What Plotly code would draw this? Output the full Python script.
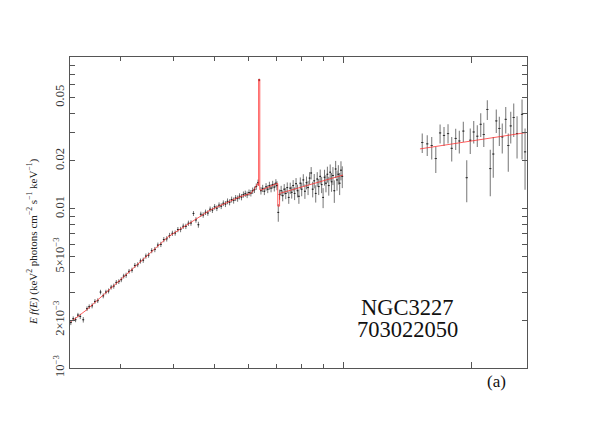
import plotly.graph_objects as go

# XIS spectrum (keV, keV^2 photons cm^-2 s^-1 keV^-1)
xis_energy = [
    2.30, 2.33, 2.36, 2.39, 2.42, 2.46, 2.51, 2.54, 2.58, 2.62, 2.66, 2.70,
    2.74, 2.78, 2.82, 2.86, 2.90, 2.94, 2.98, 3.02, 3.06, 3.10, 3.15, 3.20,
    3.25, 3.30, 3.35, 3.40, 3.45, 3.50, 3.56, 3.62, 3.68, 3.74, 3.80, 3.86,
    3.92, 3.98, 4.04, 4.10, 4.16, 4.22, 4.28, 4.34, 4.40, 4.46, 4.52, 4.58,
    4.64, 4.70, 4.76, 4.82, 4.88, 4.94, 5.00, 5.06, 5.12, 5.18, 5.24, 5.30,
    5.36, 5.42, 5.48, 5.54, 5.60, 5.66, 5.72, 5.78, 5.84, 5.90, 5.96, 6.02,
    6.08, 6.14, 6.20, 6.26, 6.32, 6.36,
    6.42, 6.48, 6.54, 6.60, 6.66, 6.72, 6.78, 6.84, 6.90, 6.96, 7.00, 7.05,
    7.10, 7.16, 7.22, 7.28, 7.34, 7.40, 7.46, 7.52, 7.58, 7.64, 7.70, 7.76,
    7.82, 7.88, 7.94, 8.00, 8.07, 8.14, 8.21, 8.28, 8.35, 8.42, 8.49, 8.56,
    8.63, 8.70, 8.77, 8.84, 8.91, 8.98, 9.05, 9.12, 9.19, 9.26, 9.33, 9.40,
    9.47, 9.54, 9.61, 9.68, 9.75, 9.82, 9.89, 9.96,
]
xis_flux = [
    0.00193, 0.00204, 0.00201, 0.00215, 0.00211, 0.00201, 0.00236, 0.00243,
    0.00246, 0.00262, 0.00265, 0.00300, 0.00284, 0.00300, 0.00305, 0.00322,
    0.00327, 0.00345, 0.00349, 0.00359, 0.00378, 0.00383, 0.00405, 0.00412,
    0.00441, 0.00446, 0.00470, 0.00476, 0.00505, 0.00512, 0.00546, 0.00555,
    0.00592, 0.00598, 0.00641, 0.00648,
    0.00680, 0.00702, 0.00705, 0.00741, 0.00742, 0.00778, 0.00776, 0.00812,
    0.00815, 0.00935, 0.00852, 0.00795, 0.00925, 0.00915, 0.00952, 0.00942,
    0.00995, 0.00982, 0.01030, 0.01010, 0.01055, 0.01040, 0.01085, 0.01072,
    0.01115, 0.01100, 0.01145, 0.01128, 0.01170, 0.01160, 0.01200, 0.01185,
    0.01230, 0.01245, 0.01225, 0.01265, 0.01255, 0.01300, 0.01320, 0.01380,
    0.01460, 0.0645,
    0.01300, 0.01345, 0.01290, 0.01375, 0.01330, 0.01400, 0.01350, 0.01420,
    0.01370, 0.01450, 0.01400, 0.00950, 0.01230, 0.01300, 0.01210, 0.01330,
    0.01250, 0.01360, 0.01180, 0.01350, 0.01270, 0.01400, 0.01250, 0.01440,
    0.01300, 0.01200, 0.01450, 0.01330, 0.01520, 0.01290, 0.01460, 0.01360,
    0.01560, 0.01680, 0.01330, 0.01500, 0.01250, 0.01540, 0.01380, 0.01600,
    0.01420, 0.01180, 0.01580, 0.01450, 0.01650, 0.01400, 0.01700, 0.01480,
    0.01620, 0.01300, 0.01780, 0.01520, 0.01650, 0.01450, 0.01750, 0.01600,
]
xis_err = [
    0.00007, 0.00007, 0.00007, 0.00007, 0.00008, 0.00008, 0.00008, 0.00008,
    0.00009, 0.00009, 0.00009, 0.00010, 0.00010, 0.00010, 0.00011, 0.00011,
    0.00012, 0.00012, 0.00012, 0.00013, 0.00013, 0.00014, 0.00014, 0.00015,
    0.00016, 0.00016, 0.00017, 0.00018, 0.00019, 0.00019, 0.00020, 0.00021,
    0.00022, 0.00023, 0.00024, 0.00025,
    0.00026, 0.00027, 0.00027, 0.00028, 0.00029, 0.00030, 0.00030, 0.00031,
    0.00032, 0.00033, 0.00034, 0.00034, 0.00035, 0.00036, 0.00037, 0.00038,
    0.00039, 0.00040, 0.00041, 0.00042, 0.00043, 0.00044, 0.00045, 0.00046,
    0.00047, 0.00048, 0.00049, 0.00050, 0.00051, 0.00052, 0.00053, 0.00054,
    0.00055, 0.00056, 0.00057, 0.00058, 0.00059, 0.00060, 0.00062, 0.00064,
    0.00066, 0.0012,
    0.0007, 0.0007, 0.0007, 0.00075, 0.00075, 0.0008, 0.0008, 0.0008,
    0.00085, 0.00085, 0.0009, 0.0012, 0.0009, 0.00095, 0.00095, 0.0010,
    0.0010, 0.00105, 0.00105, 0.0011, 0.0011, 0.00115, 0.00115, 0.0012,
    0.0012, 0.00125, 0.00125, 0.0013, 0.0013, 0.00135, 0.00135, 0.0014,
    0.0014, 0.0015, 0.0015, 0.00155, 0.00155, 0.0016, 0.0016, 0.00165,
    0.00165, 0.0017, 0.0018, 0.0018, 0.0019, 0.0019, 0.0020, 0.0020,
    0.0021, 0.0021, 0.0022, 0.0022, 0.0023, 0.0023, 0.0024, 0.0025,
]

# XIS best-fit model (with Fe K line and edge)
model_energy = [2.30, 2.50, 2.97, 3.89, 4.88, 5.73, 6.08, 6.22, 6.30, 6.34,
                6.34, 6.38, 6.38, 6.42, 6.99, 7.03, 7.03, 7.10, 7.10, 10.0]
model_flux = [0.00195, 0.00231, 0.00348, 0.00667, 0.00982, 0.0119, 0.0125,
              0.0135, 0.0144, 0.0140, 0.0650, 0.0650, 0.0132, 0.0131, 0.0144,
              0.0144, 0.0104, 0.0104, 0.0125, 0.0163]

# HXD/PIN spectrum
pin_energy = [15.34, 15.76, 16.14, 16.50, 16.89, 17.25, 17.63, 17.98, 18.37,
              18.74, 19.15, 19.50, 19.88, 20.25, 20.65, 21.03, 21.38, 21.80,
              22.15, 22.51, 22.88, 23.26, 23.63, 24.07, 24.41, 24.73, 25.13,
              25.59, 26.29, 26.72]
pin_flux = [0.0261, 0.0256, 0.0250, 0.0207, 0.0300, 0.0289, 0.0297, 0.0240,
            0.0277, 0.0267, 0.0308, 0.0157, 0.0270, 0.0304, 0.0286, 0.0340,
            0.0293, 0.0421, 0.0179, 0.0221, 0.0357, 0.0320, 0.0283, 0.0365,
            0.0250, 0.0332, 0.0375, 0.0297, 0.0392, 0.0228]
pin_hi = [0.0297, 0.0290, 0.0283, 0.0245, 0.0339, 0.0327, 0.0340, 0.0283,
          0.0318, 0.0309, 0.0352, 0.0202, 0.0320, 0.0357, 0.0335, 0.0398,
          0.0347, 0.0481, 0.0235, 0.0283, 0.0421, 0.0379, 0.0344, 0.0437,
          0.0297, 0.0407, 0.0459, 0.0382, 0.0486, 0.0320]
pin_lo = [0.0224, 0.0215, 0.0204, 0.0168, 0.0257, 0.0248, 0.0257, 0.0198,
          0.0234, 0.0223, 0.0263, 0.0110, 0.0221, 0.0257, 0.0245, 0.0283,
          0.0245, 0.0361, 0.0120, 0.0157, 0.0300, 0.0248, 0.0223, 0.0297,
          0.0171, 0.0257, 0.0283, 0.0207, 0.0204, 0.0132]
pin_model_energy = [15.15, 27.0]
pin_model_flux = [0.0238, 0.0302]

y_tickvals = [0.001, 0.002, 0.005, 0.01, 0.02, 0.05]
y_ticktext = ["10<sup>−3</sup>", "2×10<sup>−3</sup>", "5×10<sup>−3</sup>",
              "0.01", "0.02", "0.05"]
y_minor = [0.003, 0.004, 0.006, 0.007, 0.008, 0.009,
           0.03, 0.04, 0.06, 0.07, 0.08]
x_major = [10, 20]
x_minor = [3, 4, 5, 6, 7, 8, 9]

FONT = "Liberation Serif"
AXIS = "#555555"
MODEL = "rgba(255,40,40,0.75)"

fig = go.Figure()

fig.add_trace(go.Scatter(
    x=xis_energy, y=xis_flux, mode="markers",
    marker=dict(size=1, color="#222222"),
    error_y=dict(type="data", array=xis_err, color="rgba(70,70,70,0.75)",
                 thickness=1, width=0),
    error_x=dict(type="percent", value=0.5, color="#222222",
                 thickness=1, width=0),
    showlegend=False,
))

pin_up = [h - f for h, f in zip(pin_hi, pin_flux)]
pin_down = [f - l for f, l in zip(pin_flux, pin_lo)]
fig.add_trace(go.Scatter(
    x=pin_energy, y=pin_flux, mode="markers",
    marker=dict(size=1, color="#333333"),
    error_y=dict(type="data", array=pin_up, arrayminus=pin_down,
                 color="rgba(90,90,90,0.7)", thickness=1.2, width=0),
    error_x=dict(type="percent", value=0.6, color="#333333",
                 thickness=1, width=0),
    showlegend=False,
))

fig.add_trace(go.Scatter(
    x=model_energy, y=model_flux, mode="lines",
    line=dict(color=MODEL, width=1), showlegend=False,
))
fig.add_trace(go.Scatter(
    x=pin_model_energy, y=pin_model_flux, mode="lines",
    line=dict(color=MODEL, width=1), showlegend=False,
))

fig.update_xaxes(
    type="log", range=[0.3598, 1.4314],
    showline=True, linecolor=AXIS, linewidth=1, mirror="allticks",
    ticks="inside", ticklen=6, tickcolor=AXIS,
    tickvals=x_major, showticklabels=False, showgrid=False, zeroline=False,
    minor=dict(tickmode="array", tickvals=x_minor, ticks="inside",
               ticklen=4, tickcolor=AXIS, showgrid=False),
)
fig.update_yaxes(
    type="log", range=[-3, -1.046],
    showline=True, linecolor=AXIS, linewidth=1, mirror="allticks",
    ticks="inside", ticklen=5, tickcolor=AXIS,
    tickvals=y_tickvals, ticktext=y_ticktext, tickangle=-90,
    tickfont=dict(family=FONT, size=12.5, color="#333333"),
    showgrid=False, zeroline=False,
    minor=dict(tickmode="array", tickvals=y_minor, ticks="inside",
               ticklen=5, tickcolor=AXIS, showgrid=False),
)

# y-axis title as a rotated annotation so its position can be placed exactly
fig.add_annotation(
    text="<i>E f(E)</i> (keV<sup>2</sup> photons cm<sup>−2</sup> "
         "s<sup>−1</sup> keV<sup>−1</sup>)",
    x=-0.083, y=0.405, xref="paper", yref="paper", textangle=-90,
    xanchor="center", yanchor="middle", showarrow=False,
    font=dict(family=FONT, size=11, color="#222222"),
)
fig.add_annotation(text="NGC3227", x=0.7385, y=0.193, xref="paper", yref="paper",
                   xanchor="center", yanchor="middle", showarrow=False,
                   font=dict(family=FONT, size=22.5, color="#111111"))
fig.add_annotation(text="703022050", x=0.7385, y=0.124, xref="paper", yref="paper",
                   xanchor="center", yanchor="middle", showarrow=False,
                   font=dict(family=FONT, size=22.5, color="#111111"))
fig.add_annotation(text="(a)", x=0.934, y=-0.045, xref="paper", yref="paper",
                   xanchor="center", yanchor="middle", showarrow=False,
                   font=dict(family=FONT, size=17, color="#111111"))

# page is rendered with an 8px body offset, so margins are shifted accordingly
fig.update_layout(
    width=598, height=425,
    margin=dict(l=62, r=79, t=49, b=65),
    paper_bgcolor="white", plot_bgcolor="white",
    font=dict(family=FONT),
)

fig.write_html("out.html")
